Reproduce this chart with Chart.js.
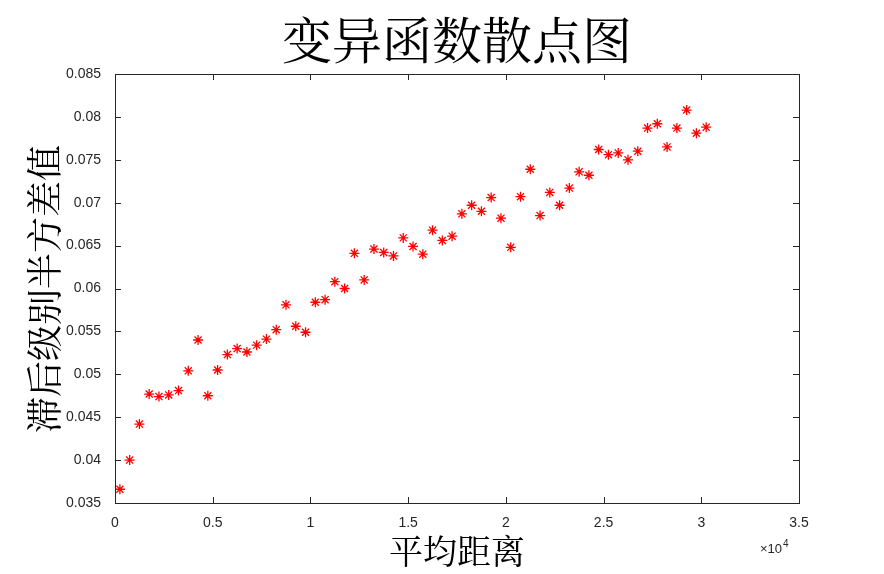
<!DOCTYPE html>
<html><head><meta charset="utf-8">
<script src="https://cdn.jsdelivr.net/npm/chart.js@4/dist/chart.umd.min.js"></script>
<style>html,body{margin:0;padding:0;background:#fff}#c{display:block}</style>
</head><body>
<canvas id="c" width="884" height="574"></canvas>
<script>
const lagDistances = [250,750,1250,1750,2250,2750,3250,3750,4250,4750,5250,5750,6250,6750,7250,7750,8250,8750,9250,9750,10250,10750,11250,11750,12250,12750,13250,13750,14250,14750,15250,15750,16250,16750,17250,17750,18250,18750,19250,19750,20250,20750,21250,21750,22250,22750,23250,23750,24250,24750,25250,25750,26250,26750,27250,27750,28250,28750,29250,29750,30250];
const semivariance = [0.0366,0.0400,0.0442,0.0477,0.0474,0.0476,0.0481,0.0504,0.0540,0.0475,0.0505,0.0523,0.0530,0.0526,0.0534,0.0541,0.0552,0.0581,0.0556,0.0549,0.0584,0.0587,0.0608,0.0600,0.0641,0.0610,0.0646,0.0642,0.0638,0.0659,0.0649,0.0640,0.0668,0.0656,0.0661,0.0687,0.0697,0.0690,0.0706,0.0682,0.0648,0.0707,0.0739,0.0685,0.0712,0.0697,0.0717,0.0736,0.0732,0.0762,0.0756,0.0758,0.0750,0.0760,0.0787,0.0792,0.0765,0.0787,0.0808,0.0781,0.0788];
const titleText = '变异函数散点图';
const xTitle = '平均距离';
const yTitle = '滞后级别半方差值';
const serif = '"Noto Serif CJK SC","Noto Sans CJK SC",serif';
const deco = {
  id:'deco',
  afterDraw(ch){
    const c=ch.ctx, a=ch.chartArea;
    c.save();
    c.strokeStyle='#262626'; c.lineWidth=1;
    c.strokeRect(a.left+0.5,a.top+0.5,a.right-a.left,a.bottom-a.top);
    const xs=ch.scales.x, ys=ch.scales.y;
    c.beginPath();
    xs.ticks.forEach(t=>{const p=Math.round(xs.getPixelForValue(t.value))+0.5;c.moveTo(p,a.bottom);c.lineTo(p,a.bottom-6);c.moveTo(p,a.top);c.lineTo(p,a.top+6);});
    ys.ticks.forEach(t=>{const p=Math.round(ys.getPixelForValue(t.value))+0.5;c.moveTo(a.left,p);c.lineTo(a.left+6,p);c.moveTo(a.right,p);c.lineTo(a.right-6,p);});
    c.stroke();
    c.fillStyle='#000'; c.textAlign='center'; c.textBaseline='middle';
    c.font='50px '+serif; c.fillText(titleText,457,40);
    c.font='34px '+serif; c.fillText(xTitle,457,551);
    c.save(); c.translate(44,289); c.rotate(-Math.PI/2); c.font='36px '+serif; c.fillText(yTitle,0,0); c.restore();
    c.fillStyle='#262626'; c.font='13px Arial, "Liberation Sans", sans-serif'; c.textAlign='left';
    c.fillText('×10',760,549); c.font='10px Arial, "Liberation Sans", sans-serif'; c.fillText('4',783,544);
    c.restore();
  }
};
new Chart(document.getElementById('c'),{
  type:'scatter',
  data:{datasets:[{data:lagDistances.map((x,i)=>({x,y:semivariance[i]})),pointStyle:'star',radius:5,borderColor:'#ff0000',backgroundColor:'#ff0000',borderWidth:1.3,hoverRadius:5}]},
  options:{responsive:false,animation:false,
    layout:{padding:{left:0,right:85,top:74,bottom:0}},
    plugins:{legend:{display:false},tooltip:{enabled:false}},
    scales:{
      x:{type:'linear',min:0,max:35000,border:{display:false},grid:{display:false},
        ticks:{stepSize:5000,color:'#262626',font:{size:14,family:'Arial, "Liberation Sans"'},padding:4,maxRotation:0,callback:v=>String(v/1e4)},
        afterFit(s){s.height=71;}},
      y:{min:0.035,max:0.085,border:{display:false},grid:{display:false},
        ticks:{stepSize:0.005,color:'#262626',font:{size:14,family:'Arial, "Liberation Sans"'},padding:6,callback:v=>String(+v.toFixed(3))},
        afterFit(s){s.width=115;}}
    }},
  plugins:[deco]
});
</script>
</body></html>
